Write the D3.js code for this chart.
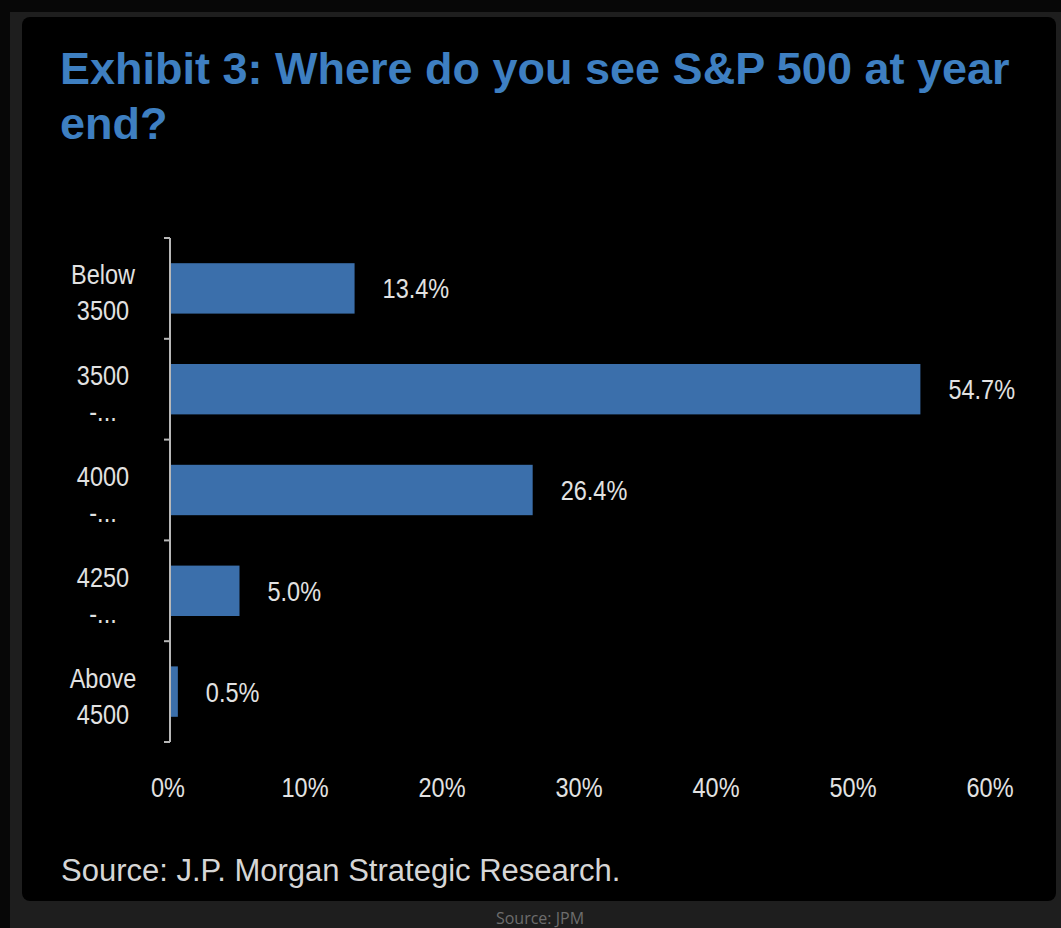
<!DOCTYPE html>
<html>
<head>
<meta charset="utf-8">
<script src="https://cdn.jsdelivr.net/npm/d3@7"></script>
<style>
  html, body { margin: 0; padding: 0; background: #070707; }
  svg { display: block; }
</style>
</head>
<body>
<script>
// ---- data ----
const categories = ["Below 3500", "3500 -...", "4000 -...", "4250 -...", "Above 4500"];
const categoryLines = [["Below", "3500"], ["3500", "-..."], ["4000", "-..."], ["4250", "-..."], ["Above", "4500"]];
const values = [13.4, 54.7, 26.4, 5.0, 0.5];
const valueLabels = ["13.4%", "54.7%", "26.4%", "5.0%", "0.5%"];
const xTicks = [0, 10, 20, 30, 40, 50, 60];
const xTickLabels = ["0%", "10%", "20%", "30%", "40%", "50%", "60%"];
const titleLines = ["Exhibit 3: Where do you see S&P 500 at year", "end?"];
const sourceText = "Source: J.P. Morgan Strategic Research.";
const footerText = "Source: JPM";

// ---- layout ----
const W = 1061, H = 928;
const svg = d3.select("body").append("svg").attr("width", W).attr("height", H);

svg.append("rect").attr("x", 0).attr("y", 0).attr("width", W).attr("height", H).attr("fill", "#070707");
svg.append("rect").attr("x", 10).attr("y", 12).attr("width", W - 10).attr("height", H - 12).attr("fill", "#1e1e1e");
svg.append("rect").attr("x", 22).attr("y", 17).attr("width", 1034).attr("height", 884).attr("rx", 8).attr("fill", "#000");

const labelFont = "'Liberation Sans', Arial, sans-serif";
const narrow = 0.84;

// title
svg.append("g").selectAll("text").data(titleLines).join("text")
  .attr("x", 60).attr("y", (d, i) => 84 + i * 55)
  .attr("font-family", labelFont).attr("font-weight", "bold").attr("font-size", 45)
  .attr("fill", "#3e7fc1").text(d => d);

const x = d3.scaleLinear().domain([0, 60]).range([171, 993]);
const y = d3.scaleBand().domain(categories).range([238, 742]).paddingInner(0.5).paddingOuter(0.25);

const axisColor = "#b8b8b8";
// left axis line
svg.append("line").attr("x1", 170).attr("x2", 170).attr("y1", y.range()[0]).attr("y2", y.range()[1])
  .attr("stroke", axisColor).attr("stroke-width", 2);
// ticks at category boundaries
const bounds = d3.range(categories.length + 1).map(i => y.range()[0] + i * y.step());
svg.append("g").selectAll("line").data(bounds).join("line")
  .attr("x1", 164).attr("x2", 170).attr("y1", d => d).attr("y2", d => d)
  .attr("stroke", axisColor).attr("stroke-width", 2);

// bars
svg.append("g").selectAll("rect").data(values).join("rect")
  .attr("x", x(0)).attr("y", (d, i) => y(categories[i]))
  .attr("width", d => x(d) - x(0)).attr("height", y.bandwidth())
  .attr("fill", "#3b6fab");

// value labels
svg.append("g").selectAll("text").data(values).join("text")
  .attr("transform", (d, i) => `translate(${x(d) + 28},${y(categories[i]) + y.bandwidth() / 2 + 10}) scale(${narrow},1)`)
  .attr("font-family", labelFont).attr("font-size", 28).attr("fill", "#e2e2e2")
  .text((d, i) => valueLabels[i]);

// category labels
const catG = svg.append("g");
categories.forEach((c, i) => {
  const cy = y(c) + y.bandwidth() / 2;
  categoryLines[i].forEach((line, j) => {
    catG.append("text")
      .attr("transform", `translate(103,${cy - 4 + j * 36}) scale(${narrow},1)`)
      .attr("text-anchor", "middle")
      .attr("font-family", labelFont).attr("font-size", 28).attr("fill", "#e2e2e2")
      .text(line);
  });
});

// x tick labels
svg.append("g").selectAll("text").data(xTicks).join("text")
  .attr("transform", (d) => `translate(${x(d) - 3},797) scale(${narrow},1)`)
  .attr("text-anchor", "middle")
  .attr("font-family", labelFont).attr("font-size", 28).attr("fill", "#e2e2e2")
  .text((d, i) => xTickLabels[i]);

// source
svg.append("text").attr("x", 61).attr("y", 881)
  .attr("font-family", labelFont).attr("font-size", 31).attr("fill", "#d6d6d6")
  .text(sourceText);

svg.append("text").attr("x", 540).attr("y", 924).attr("text-anchor", "middle")
  .attr("font-family", "'Open Sans', sans-serif").attr("font-size", 16).attr("fill", "#6d6d6d")
  .text(footerText);
</script>
</body>
</html>
